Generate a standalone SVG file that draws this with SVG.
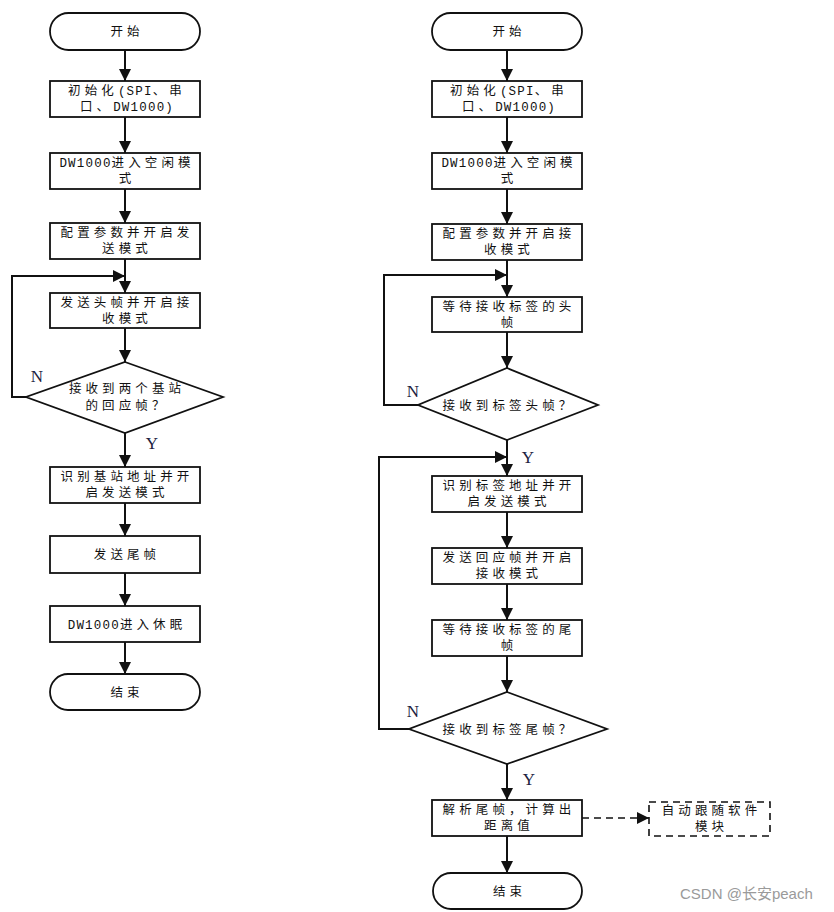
<svg xmlns="http://www.w3.org/2000/svg" width="834" height="912" viewBox="0 0 834 912">
<style>
.bx{fill:#fff;stroke:#111;stroke-width:1.8}
.ln{fill:none;stroke:#111;stroke-width:2}
.ds{fill:none;stroke:#111;stroke-width:1.6;stroke-dasharray:7 5}
.t{font-family:"Noto Sans CJK SC","Noto Sans",sans-serif;font-size:12.5px;letter-spacing:4.1px;fill:#111;text-anchor:middle}
.m{font-family:"Liberation Mono",monospace;letter-spacing:1.2px}
.yn{font-family:"Liberation Serif",serif;font-size:17px;fill:#1c2240;text-anchor:middle}
.wm{font-family:"Liberation Sans","Noto Sans CJK SC",sans-serif;font-size:15px;fill:#9a9a9a}
</style>
<defs>
<marker id="ah" markerUnits="userSpaceOnUse" markerWidth="12" markerHeight="12" refX="12" refY="6" orient="auto" viewBox="0 0 12 12">
<path d="M0,0 L12,6 L0,12 z" fill="#111"/>
</marker>
</defs>
<rect width="834" height="912" fill="#fff"/>

<g id="connectors">
<line class="ln" x1="125" y1="50" x2="125" y2="81" marker-end="url(#ah)"/>
<line class="ln" x1="125" y1="117" x2="125" y2="153" marker-end="url(#ah)"/>
<line class="ln" x1="125" y1="189" x2="125" y2="223" marker-end="url(#ah)"/>
<line class="ln" x1="125" y1="259" x2="125" y2="293" marker-end="url(#ah)"/>
<polyline class="ln" points="26,397 12,397 12,276 125,276" marker-end="url(#ah)"/>
<line class="ln" x1="125" y1="328" x2="125" y2="362" marker-end="url(#ah)"/>
<line class="ln" x1="125" y1="433" x2="125" y2="467" marker-end="url(#ah)"/>
<line class="ln" x1="125" y1="503" x2="125" y2="536" marker-end="url(#ah)"/>
<line class="ln" x1="125" y1="573" x2="125" y2="606" marker-end="url(#ah)"/>
<line class="ln" x1="125" y1="642" x2="125" y2="674" marker-end="url(#ah)"/>

<line class="ln" x1="507" y1="50" x2="507" y2="81" marker-end="url(#ah)"/>
<line class="ln" x1="507" y1="117" x2="507" y2="153" marker-end="url(#ah)"/>
<line class="ln" x1="507" y1="189" x2="507" y2="224" marker-end="url(#ah)"/>
<line class="ln" x1="507" y1="260" x2="507" y2="297" marker-end="url(#ah)"/>
<polyline class="ln" points="418,405 384,405 384,275 507,275" marker-end="url(#ah)"/>
<line class="ln" x1="507" y1="332" x2="507" y2="368" marker-end="url(#ah)"/>
<line class="ln" x1="507" y1="440" x2="507" y2="476" marker-end="url(#ah)"/>
<polyline class="ln" points="409,729 379,729 379,457 507,457" marker-end="url(#ah)"/>
<line class="ln" x1="507" y1="512" x2="507" y2="548" marker-end="url(#ah)"/>
<line class="ln" x1="507" y1="584" x2="507" y2="620" marker-end="url(#ah)"/>
<line class="ln" x1="507" y1="656" x2="507" y2="692" marker-end="url(#ah)"/>
<line class="ln" x1="507" y1="764" x2="507" y2="800" marker-end="url(#ah)"/>
<line class="ln" x1="507" y1="836" x2="507" y2="873" marker-end="url(#ah)"/>
<line class="ds" x1="582" y1="818" x2="649" y2="818" marker-end="url(#ah)"/>

<text class="yn" x="37" y="382">N</text>
<text class="yn" x="152" y="449">Y</text>
<text class="yn" x="413" y="397">N</text>
<text class="yn" x="528" y="463">Y</text>
<text class="yn" x="413" y="717">N</text>
<text class="yn" x="529" y="785">Y</text>
</g>

<g id="L_start">
<rect class="bx" x="50" y="13" width="150" height="37" rx="18.5"/>
<text class="t" x="127" y="36">开始</text>
</g>
<g id="L_init">
<rect class="bx" x="50" y="81" width="150" height="36"/>
<text class="t"><tspan x="127" y="95">初始化<tspan class="m">(SPI</tspan>、串</tspan><tspan x="127" y="111">口、<tspan class="m">DW1000)</tspan></tspan></text>
</g>
<g id="L_idle">
<rect class="bx" x="50" y="153" width="150" height="36"/>
<text class="t"><tspan x="127" y="167"><tspan class="m">DW1000</tspan>进入空闲模</tspan><tspan x="127" y="183">式</tspan></text>
</g>
<g id="L_cfg">
<rect class="bx" x="50" y="223" width="150" height="36"/>
<text class="t"><tspan x="127" y="237">配置参数并开启发</tspan><tspan x="127" y="253">送模式</tspan></text>
</g>
<g id="L_head">
<rect class="bx" x="50" y="293" width="150" height="35"/>
<text class="t"><tspan x="127" y="306.5">发送头帧并开启接</tspan><tspan x="127" y="322.5">收模式</tspan></text>
</g>
<g id="L_dec">
<polygon class="bx" points="125,362 223,397 125,433 26,397"/>
<text class="t"><tspan x="127" y="392.5">接收到两个基站</tspan><tspan x="127" y="409.5">的回应帧？</tspan></text>
</g>
<g id="L_ident">
<rect class="bx" x="50" y="467" width="150" height="36"/>
<text class="t"><tspan x="127" y="481">识别基站地址并开</tspan><tspan x="127" y="497">启发送模式</tspan></text>
</g>
<g id="L_tail">
<rect class="bx" x="50" y="536" width="150" height="37"/>
<text class="t" x="127" y="559">发送尾帧</text>
</g>
<g id="L_sleep">
<rect class="bx" x="50" y="606" width="150" height="36"/>
<text class="t" x="127" y="628.5"><tspan class="m">DW1000</tspan>进入休眠</text>
</g>
<g id="L_end">
<rect class="bx" x="50" y="674" width="150" height="36" rx="18"/>
<text class="t" x="127" y="696.5">结束</text>
</g>

<g id="R_start">
<rect class="bx" x="432" y="13" width="150" height="37" rx="18.5"/>
<text class="t" x="509" y="36">开始</text>
</g>
<g id="R_init">
<rect class="bx" x="432" y="81" width="150" height="36"/>
<text class="t"><tspan x="509" y="95">初始化<tspan class="m">(SPI</tspan>、串</tspan><tspan x="509" y="111">口、<tspan class="m">DW1000)</tspan></tspan></text>
</g>
<g id="R_idle">
<rect class="bx" x="432" y="153" width="150" height="36"/>
<text class="t"><tspan x="509" y="167"><tspan class="m">DW1000</tspan>进入空闲模</tspan><tspan x="509" y="183">式</tspan></text>
</g>
<g id="R_cfg">
<rect class="bx" x="432" y="224" width="150" height="36"/>
<text class="t"><tspan x="509" y="238">配置参数并开启接</tspan><tspan x="509" y="254">收模式</tspan></text>
</g>
<g id="R_wait_head">
<rect class="bx" x="432" y="297" width="150" height="35"/>
<text class="t"><tspan x="509" y="310.5">等待接收标签的头</tspan><tspan x="509" y="326.5">帧</tspan></text>
</g>
<g id="R_dec1">
<polygon class="bx" points="507,368 598,405 507,440 418,405"/>
<text class="t" x="509" y="409.5">接收到标签头帧？</text>
</g>
<g id="R_ident">
<rect class="bx" x="432" y="476" width="150" height="36"/>
<text class="t"><tspan x="509" y="490">识别标签地址并开</tspan><tspan x="509" y="506">启发送模式</tspan></text>
</g>
<g id="R_reply">
<rect class="bx" x="432" y="548" width="150" height="36"/>
<text class="t"><tspan x="509" y="562">发送回应帧并开启</tspan><tspan x="509" y="578">接收模式</tspan></text>
</g>
<g id="R_wait_tail">
<rect class="bx" x="432" y="620" width="150" height="36"/>
<text class="t"><tspan x="509" y="634">等待接收标签的尾</tspan><tspan x="509" y="650">帧</tspan></text>
</g>
<g id="R_dec2">
<polygon class="bx" points="507,692 607,729 507,764 409,729"/>
<text class="t" x="509" y="733.5">接收到标签尾帧？</text>
</g>
<g id="R_parse">
<rect class="bx" x="432" y="800" width="150" height="36"/>
<text class="t"><tspan x="509" y="814">解析尾帧，计算出</tspan><tspan x="509" y="830">距离值</tspan></text>
</g>
<g id="R_follow">
<rect class="ds" x="649" y="802" width="121" height="34"/>
<text class="t"><tspan x="711.5" y="815">自动跟随软件</tspan><tspan x="711.5" y="831">模块</tspan></text>
</g>
<g id="R_end">
<rect class="bx" x="433" y="873" width="149" height="36" rx="18"/>
<text class="t" x="509.5" y="895.5">结束</text>
</g>

<text class="wm" x="680" y="899">CSDN @长安peach</text>
</svg>
